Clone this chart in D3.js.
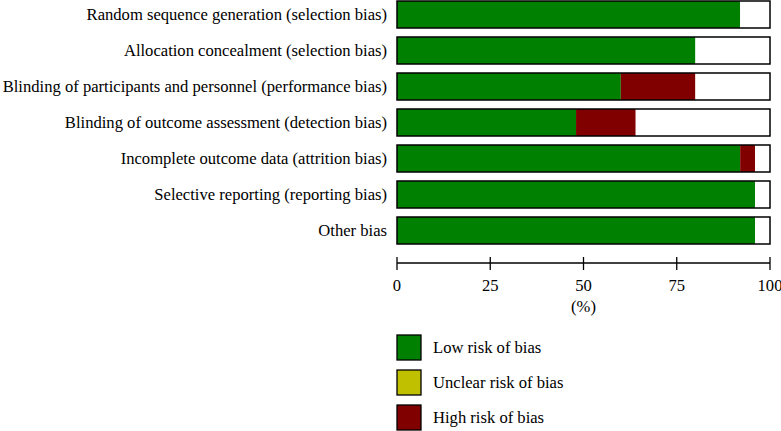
<!DOCTYPE html>
<html>
<head>
<meta charset="utf-8">
<script src="https://cdn.jsdelivr.net/npm/d3@7"></script>
<style>
  body { margin: 0; background: #fff; }
  svg text { font-family: "Liberation Serif", "DejaVu Serif", serif; fill: #000; }
</style>
</head>
<body>
<svg id="chart" width="781" height="431"></svg>
<script>
// domains, top to bottom
var domains = [
    "Random sequence generation (selection bias)",
    "Allocation concealment (selection bias)",
    "Blinding of participants and personnel (performance bias)",
    "Blinding of outcome assessment (detection bias)",
    "Incomplete outcome data (attrition bias)",
    "Selective reporting (reporting bias)",
    "Other bias"
];
// percent of studies
var lowRisk     = [92, 80, 60, 48, 92, 96, 96];
var highRisk    = [0, 0, 20, 16, 4, 0, 0];
var unclearRisk = [8, 20, 20, 36, 4, 4, 4];

var xTicks = [0, 25, 50, 75, 100];
var legendLabels = ["Low risk of bias", "Unclear risk of bias", "High risk of bias"];
var legendColors = ["#008000", "#c0c000", "#800000"];

var svg = d3.select("#chart");

var x = d3.scaleLinear().domain([0, 100]).range([397, 770]);
var y = d3.scaleBand().domain(domains).range([-3.5, 248.5]).paddingInner(0.25).paddingOuter(0.125);

var rows = domains.map(function (d, i) {
    return [
        {key: "low", x0: 0, x1: lowRisk[i], fill: "#008000"},
        {key: "high", x0: lowRisk[i], x1: lowRisk[i] + highRisk[i], fill: "#800000"},
        {key: "unclear", x0: lowRisk[i] + highRisk[i], x1: lowRisk[i] + highRisk[i] + unclearRisk[i], fill: "#ffffff"}
    ];
});

var g = svg.selectAll("g.row")
    .data(domains)
    .enter()
    .append("g")
    .attr("class", "row")
    .attr("transform", function (d) { return "translate(0," + y(d) + ")"; });

g.selectAll("rect.seg")
    .data(function (d, i) { return rows[i].filter(function (s) { return s.x1 > s.x0; }); })
    .enter()
    .append("rect")
    .attr("class", "seg")
    .attr("x", function (s) { return x(s.x0); })
    .attr("width", function (s) { return x(s.x1) - x(s.x0); })
    .attr("y", 0)
    .attr("height", y.bandwidth())
    .attr("fill", function (s) { return s.fill; });

g.append("rect")
    .attr("x", x(0))
    .attr("width", x(100) - x(0))
    .attr("y", 0)
    .attr("height", y.bandwidth())
    .attr("fill", "none")
    .attr("stroke", "#000")
    .attr("stroke-width", 1.5);

g.append("text")
    .attr("x", 387)
    .attr("y", y.bandwidth() / 2)
    .attr("dy", "0.35em")
    .attr("text-anchor", "end")
    .style("font-size", "16.6px")
    .text(function (d) { return d; });

// x axis
var axis = svg.append("g").attr("transform", "translate(0,263)");
axis.append("line")
    .attr("x1", x(0)).attr("x2", x(100))
    .attr("stroke", "#000").attr("stroke-width", 1.3);
axis.selectAll("line.tick")
    .data(xTicks)
    .enter()
    .append("line")
    .attr("class", "tick")
    .attr("x1", function (d) { return x(d); })
    .attr("x2", function (d) { return x(d); })
    .attr("y1", -6).attr("y2", 7)
    .attr("stroke", "#000").attr("stroke-width", 1.3);
axis.selectAll("text")
    .data(xTicks)
    .enter()
    .append("text")
    .attr("x", function (d) { return x(d); })
    .attr("y", 22)
    .attr("dy", "0.35em")
    .attr("text-anchor", "middle")
    .style("font-size", "16.6px")
    .text(function (d) { return d; });
svg.append("text")
    .attr("x", x(50))
    .attr("y", 306)
    .attr("dy", "0.35em")
    .attr("text-anchor", "middle")
    .style("font-size", "16.6px")
    .text("(%)");

// legend
var lg = svg.selectAll("g.legend")
    .data(legendLabels)
    .enter()
    .append("g")
    .attr("class", "legend")
    .attr("transform", function (d, i) { return "translate(397," + (335 + i * 35) + ")"; });
lg.append("rect")
    .attr("width", 24).attr("height", 25)
    .attr("fill", function (d, i) { return legendColors[i]; })
    .attr("stroke", "#000").attr("stroke-width", 1.3);
lg.append("text")
    .attr("x", 36)
    .attr("y", 12.5)
    .attr("dy", "0.35em")
    .style("font-size", "16.6px")
    .text(function (d) { return d; });
</script>
</body>
</html>
